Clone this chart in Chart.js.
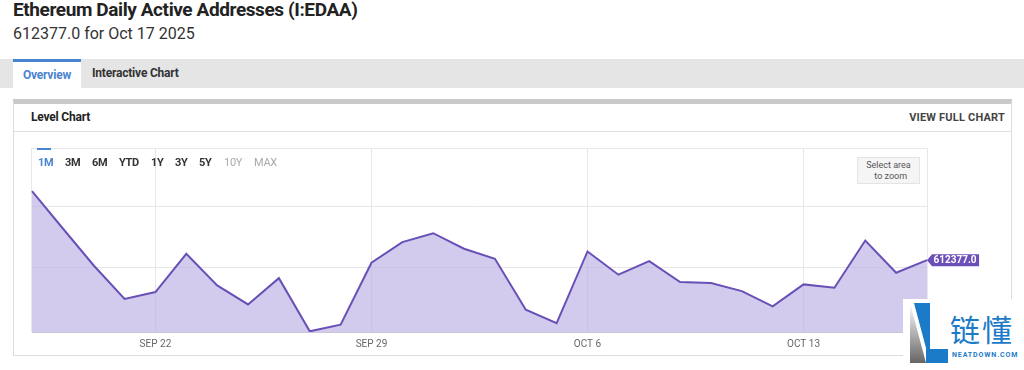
<!DOCTYPE html>
<html lang="en">
<head>
<meta charset="UTF-8">
<title>Ethereum Daily Active Addresses</title>
<script src="https://cdn.jsdelivr.net/npm/chart.js@4.4.0/dist/chart.umd.min.js"></script>
<style>
  html, body { margin: 0; padding: 0; background: #fff; }
  body { width: 1024px; height: 370px; position: relative; overflow: hidden; font-family: Roboto, "Noto Sans", sans-serif; color: #333; }
  .abs { position: absolute; white-space: nowrap; }
  .title { left: 13px; top: -2px; font-size: 19px; font-weight: 700; color: #222; letter-spacing: -0.4px; }
  .sub { left: 13px; top: 24px; font-size: 16px; color: #333; }
  .tabbar { left: 0; top: 59px; width: 1024px; height: 29px; background: #e5e5e5; }
  .tab-on { left: 13px; top: 59px; width: 68px; height: 29px; background: #fff; border-top: 3px solid #4a84d0; box-sizing: border-box; text-align: center; line-height: 26px; font-size: 12px; font-weight: 700; color: #4a84d0; letter-spacing: -0.2px; }
  .tab-off { left: 92px; top: 59px; line-height: 29px; font-size: 12px; font-weight: 700; color: #333; letter-spacing: -0.2px; }
  .card { left: 13px; top: 99px; width: 999px; height: 257px; border: 1px solid #ddd; border-top: 5px solid #c9c9c9; box-sizing: border-box; }
  .card-head { left: 13px; top: 131px; width: 999px; height: 1px; background: #e0e0e0; }
  .lvl { left: 31px; top: 110px; font-size: 12px; font-weight: 700; color: #222; letter-spacing: -0.2px; }
  .full { right: 19px; top: 111px; font-size: 11px; font-weight: 700; color: #444; letter-spacing: 0.2px; }
  .frame { left: 31px; top: 148px; width: 897px; height: 184px; border: 1px solid #e8e8e8; border-bottom: none; box-sizing: border-box; }
  .rng { top: 156px; font-size: 11px; font-weight: 700; color: #333; letter-spacing: -0.3px; }
  .rng.on { color: #4a84d0; }
  .rng.off { color: #aaa; font-weight: 400; }
  .rng-bar { left: 37px; top: 148px; width: 14px; height: 2px; background: #4a84d0; }
  .zoombtn { left: 857px; top: 157px; width: 63px; height: 27px; background: #f5f5f5; border: 1px solid #e4e4e4; box-sizing: border-box; font-size: 9px; color: #555; text-align: center; line-height: 11px; padding-top: 2px; }
  #wrap { position: absolute; left: 0; top: 0; width: 1024px; height: 370px; }
  .wm { left: 903px; top: 299px; width: 121px; height: 71px; background: #fff; }
  .wm-l2 { left: 910px; top: 303px; width: 16px; height: 60px; background: linear-gradient(180deg, #fff 0%, #aaa 55%, #666 100%); clip-path: polygon(0 0, 100% 100%, 0 100%); }
  .wm-blue { left: 914px; top: 303px; width: 16px; height: 60px; background: #1c7bc8; clip-path: polygon(0 0, 100% 0, 100% 100%); }
  .wm-foot { left: 926px; top: 349px; width: 22px; height: 14px; background: #1c7bc8; }
  .wm-txt { left: 950px; top: 306px; font-family: "Noto Sans CJK SC", sans-serif; font-size: 30px; color: #1c7bc8; letter-spacing: 2px; }
  .wm-url { left: 952px; top: 351px; font-size: 7px; color: #1c7bc8; letter-spacing: 0.9px; font-weight: 700; }
</style>
</head>
<body>
  <div class="abs title">Ethereum Daily Active Addresses (I:EDAA)</div>
  <div class="abs sub">612377.0 for Oct 17 2025</div>
  <div class="abs tabbar"></div>
  <div class="abs tab-on">Overview</div>
  <div class="abs tab-off">Interactive Chart</div>
  <div class="abs card"></div>
  <div class="abs card-head"></div>
  <div class="abs lvl">Level Chart</div>
  <div class="abs full">VIEW FULL CHART</div>
  <div class="abs frame"></div>
  <div id="wrap"><canvas id="c"></canvas></div>
  <div class="abs rng-bar"></div>
  <div class="abs rng on" style="left:38px">1M</div>
  <div class="abs rng" style="left:65px">3M</div>
  <div class="abs rng" style="left:92px">6M</div>
  <div class="abs rng" style="left:119px">YTD</div>
  <div class="abs rng" style="left:151px">1Y</div>
  <div class="abs rng" style="left:175px">3Y</div>
  <div class="abs rng" style="left:199px">5Y</div>
  <div class="abs rng off" style="left:224px">10Y</div>
  <div class="abs rng off" style="left:254px">MAX</div>
  <div class="abs zoombtn">Select area<br>&nbsp;&nbsp;to zoom</div>
  <div class="abs wm"></div>
  <div class="abs wm-l2"></div>
  <div class="abs wm-blue"></div>
  <div class="abs wm-foot"></div>
  <div class="abs wm-txt">链懂</div>
  <div class="abs wm-url">NEATDOWN.COM</div>

<script>
  // daily values, Sep 18 - Oct 17 2025
  const dates = [
    'Sep 18', 'Sep 19', 'Sep 20', 'Sep 21', 'Sep 22', 'Sep 23', 'Sep 24', 'Sep 25', 'Sep 26', 'Sep 27',
    'Sep 28', 'Sep 29', 'Sep 30', 'Oct 1', 'Oct 2', 'Oct 3', 'Oct 4', 'Oct 5', 'Oct 6', 'Oct 7',
    'Oct 8', 'Oct 9', 'Oct 10', 'Oct 11', 'Oct 12', 'Oct 13', 'Oct 14', 'Oct 15', 'Oct 16', 'Oct 17'
  ];
  const addresses = [
    725000, 664100, 603700, 549100, 560200, 622800, 571100, 540100, 583000, 496100,
    507000, 608200, 641800, 656400, 631000, 614700, 531500, 509600, 626600, 588600,
    610800, 576500, 574900, 561800, 536900, 572800, 567400, 644500, 591800, 612377
  ];
  const xTickLabels = ['Sep 22', 'Sep 29', 'Oct 6', 'Oct 13'];
  const yGridValues = [600000, 700000];

  // purple tag with the latest value, pinned to the last point
  const lastLabel = {
    id: 'lastLabel',
    afterDatasetsDraw(chart) {
      const meta = chart.getDatasetMeta(0);
      const pt = meta.data[meta.data.length - 1];
      const ctx = chart.ctx;
      const txt = addresses[addresses.length - 1].toFixed(1);
      ctx.save();
      ctx.font = 'bold 10px Roboto';
      const w = ctx.measureText(txt).width + 4;
      const x = pt.x + 5, y = pt.y;
      ctx.fillStyle = '#6a4fb8';
      ctx.beginPath();
      ctx.moveTo(pt.x, y);
      ctx.lineTo(x, y - 6);
      ctx.lineTo(x + w, y - 6);
      ctx.lineTo(x + w, y + 6);
      ctx.lineTo(x, y + 6);
      ctx.closePath();
      ctx.fill();
      ctx.fillStyle = '#fff';
      ctx.textBaseline = 'middle';
      ctx.fillText(txt, x + 1.5, y + 0.5);
      ctx.restore();
    }
  };

  new Chart(document.getElementById('c'), {
    type: 'line',
    data: {
      labels: dates,
      datasets: [{
        data: addresses,
        borderColor: '#6a50b6',
        borderWidth: 2,
        backgroundColor: 'rgba(190, 178, 230, 0.68)',
        fill: 'start',
        pointRadius: 0,
        tension: 0
      }]
    },
    options: {
      responsive: true,
      maintainAspectRatio: false,
      animation: false,
      layout: { padding: { left: 32, top: 149, right: 97, bottom: 14 } },
      plugins: { legend: { display: false }, tooltip: { enabled: false } },
      scales: {
        x: {
          offset: false,
          border: { color: '#c9c6dc' },
          grid: {
            drawTicks: false,
            color: ctx => xTickLabels.includes(dates[ctx.index]) ? '#e6e6e6' : 'rgba(0,0,0,0)'
          },
          ticks: {
            autoSkip: false,
            maxRotation: 0,
            padding: 6,
            color: '#666',
            font: { family: 'Roboto', size: 10 },
            callback: (v, i) => xTickLabels.includes(dates[i]) ? dates[i].toUpperCase() : ''
          }
        },
        y: {
          min: 495000,
          max: 794000,
          afterBuildTicks: axis => { axis.ticks = yGridValues.map(v => ({ value: v })); },
          border: { display: false },
          grid: { drawTicks: false, color: '#e6e6e6' },
          ticks: { display: false }
        }
      }
    },
    plugins: [lastLabel]
  });
</script>
</body>
</html>
